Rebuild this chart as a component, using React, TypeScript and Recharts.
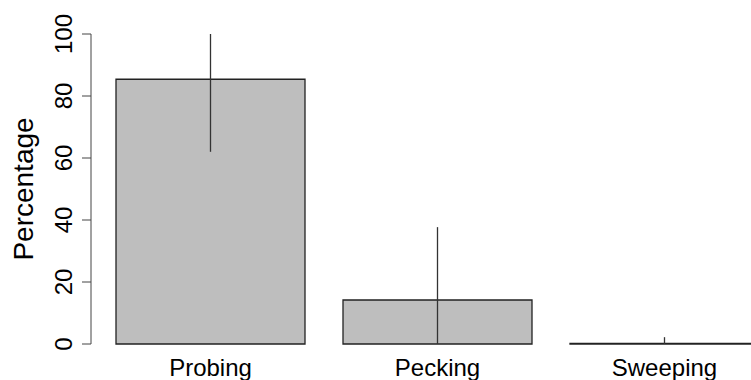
import React from 'react';
import { BarChart, Bar, XAxis, YAxis, ErrorBar } from 'recharts';

const categories = ['Probing', 'Pecking', 'Sweeping'];
const percentages = [85.4, 14.2, 0.2];
const lowerBounds = [62, 0, 0];
const upperBounds = [100, 37.7, 2.2];
const yTicks = [0, 20, 40, 60, 80, 100];

const data = categories.map((name, i) => ({
  name,
  value: percentages[i],
  err: [percentages[i] - lowerBounds[i], upperBounds[i] - percentages[i]],
}));

const FONT = '"Liberation Sans", Arial, sans-serif';

const YTick = (props: any) => {
  const { y, payload } = props;
  return (
    <text
      x={72}
      y={y}
      transform={`rotate(-90, 72, ${y})`}
      textAnchor="middle"
      fontSize={24}
      fontFamily={FONT}
      fill="#000"
    >
      {payload.value}
    </text>
  );
};

const XTick = (props: any) => {
  const { x, payload } = props;
  return (
    <text x={x} y={376} textAnchor="middle" fontSize={24} fontFamily={FONT} fill="#000">
      {payload.value}
    </text>
  );
};

const YLabel = () => (
  <text
    x={33}
    y={189}
    transform="rotate(-90, 33, 189)"
    textAnchor="middle"
    fontSize={28}
    fontFamily={FONT}
    fill="#000"
  >
    Percentage
  </text>
);

const App: React.FC = () => {
  return (
    <div style={{ position: 'absolute', left: 0, top: 0, width: 751, height: 380, overflow: 'hidden', background: '#fff' }}>
      <BarChart
        width={778}
        height={380}
        data={data}
        margin={{ top: 34, right: 0, bottom: 0, left: 0 }}
      >
        <XAxis
          dataKey="name"
          height={36}
          axisLine={false}
          tickLine={false}
          padding={{ left: 6, right: 0 }}
          tick={<XTick />}
          interval={0}
        />
        <YAxis
          width={91}
          domain={[0, 100]}
          ticks={yTicks}
          tickSize={9}
          stroke="#444"
          tick={<YTick />}
          label={{ content: <YLabel /> }}
        />
        <Bar dataKey="value" barSize={189} fill="#BEBEBE" stroke="#222" strokeWidth={1.3} isAnimationActive={false}>
          <ErrorBar dataKey="err" width={0} stroke="#333" strokeWidth={1.3} />
        </Bar>
      </BarChart>
    </div>
  );
};

export default App;
